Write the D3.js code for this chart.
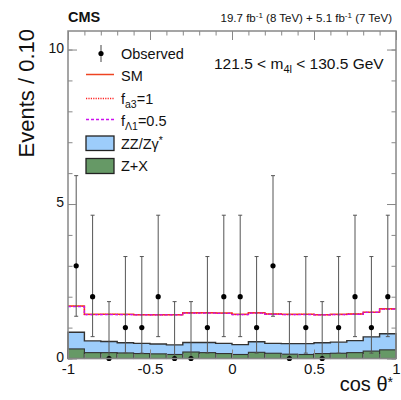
<!DOCTYPE html>
<html>
<head>
<meta charset="utf-8">
<script src="https://cdn.jsdelivr.net/npm/d3@7/dist/d3.min.js"></script>
<style>
  html, body { margin: 0; padding: 0; background: #fff; }
  svg text { font-family: "Liberation Sans", Arial, Helvetica, sans-serif; fill: #111; }
</style>
</head>
<body>
<svg id="chart" width="401" height="400"></svg>
<script>
// Bin lower edges of cos(theta*) histogram, width 0.1
const binEdges = d3.range(20).map(i => -1 + i * 0.1);
const binWidth = 0.1;

// Observed event counts per bin
const observed = [3, 2, 0, 1, 1, 2, 0, 0, 1, 2, 2, 1, 3, 0, 1, 0, 1, 2, 1, 2];

// Expected Z+X background per bin
const zxBkg = [0.31, 0.19, 0.19, 0.18, 0.16, 0.15, 0.13, 0.21, 0.19, 0.16,
               0.13, 0.20, 0.17, 0.14, 0.13, 0.16, 0.17, 0.19, 0.24, 0.28];
// Expected ZZ/Zgamma* background per bin (stacked on Z+X)
const zzBkg = [0.54, 0.38, 0.36, 0.33, 0.33, 0.32, 0.31, 0.31, 0.33, 0.33,
               0.32, 0.34, 0.32, 0.34, 0.35, 0.35, 0.36, 0.39, 0.46, 0.52];
// Total expectation for signal hypotheses (signal + background)
const smTotal = [1.70, 1.43, 1.43, 1.43, 1.42, 1.42, 1.42, 1.48, 1.48, 1.47,
                 1.43, 1.48, 1.44, 1.43, 1.43, 1.42, 1.43, 1.44, 1.50, 1.61];
const fa3Total = [1.69, 1.42, 1.43, 1.42, 1.42, 1.41, 1.42, 1.47, 1.48, 1.46,
                  1.42, 1.47, 1.44, 1.42, 1.43, 1.42, 1.42, 1.44, 1.49, 1.60];
const fL1Total = [1.68, 1.42, 1.42, 1.42, 1.41, 1.41, 1.41, 1.47, 1.47, 1.46,
                  1.42, 1.47, 1.43, 1.42, 1.42, 1.41, 1.42, 1.43, 1.49, 1.60];

// Poisson 68% (Garwood) intervals for small counts
const poissonLow  = [0, 0.173, 0.708, 1.367];
const poissonHigh = [1.841, 3.300, 4.638, 5.918];

const xMajorTicks = [-1, -0.5, 0, 0.5, 1];
const xTickLabels = ["-1", "-0.5", "0", "0.5", "1"];
const yMajorTicks = [0, 5, 10];

const svg = d3.select("#chart");
const plotLeft = 68, plotRight = 396, plotTop = 31, plotBottom = 358.5;

const x = d3.scaleLinear().domain([-1, 1]).range([plotLeft, plotRight]);
const y = d3.scaleLinear().domain([0, 10.6]).range([plotBottom, plotTop]);

// step path for a per-bin series
function stepPath(vals) {
  let p = "";
  vals.forEach((v, i) => {
    const x0 = x(binEdges[i]), x1 = x(binEdges[i] + binWidth);
    p += (i === 0 ? "M" : "L") + x0 + "," + y(v) + "L" + x1 + "," + y(v);
  });
  return p;
}

const stackTop = zxBkg.map((v, i) => v + zzBkg[i]);

// ZZ / Zgamma* stacked area
const areaPts = [];
stackTop.forEach((v, i) => {
  areaPts.push([x(binEdges[i]), y(v)], [x(binEdges[i] + binWidth), y(v)]);
});
const areaPath = "M" + x(-1) + "," + y(0) + "L" + areaPts.map(p => p.join(",")).join("L") +
  "L" + x(1) + "," + y(0) + "Z";
svg.append("path").attr("d", areaPath).attr("fill", "#9dcdfb").attr("stroke", "none");
svg.append("path")
  .attr("d", "M" + x(-1) + "," + y(0) + "L" + stepPath(stackTop).slice(1) + "L" + x(1) + "," + y(0))
  .attr("fill", "none").attr("stroke", "#333").attr("stroke-width", 1.4);

// Z+X boxes
svg.append("g").selectAll("rect").data(zxBkg).join("rect")
  .attr("x", (d, i) => x(binEdges[i]))
  .attr("width", (d, i) => x(binEdges[i] + binWidth) - x(binEdges[i]))
  .attr("y", d => y(d))
  .attr("height", d => y(0) - y(d))
  .attr("fill", "#669966").attr("stroke", "#333").attr("stroke-width", 1.1);

// Signal hypothesis lines
svg.append("path").attr("d", stepPath(smTotal))
  .attr("fill", "none").attr("stroke", "#ee4422").attr("stroke-width", 1.5);
svg.append("path").attr("d", stepPath(fa3Total))
  .attr("fill", "none").attr("stroke", "#ff2222").attr("stroke-width", 1.3)
  .attr("stroke-dasharray", "1.2,1.2");
svg.append("path").attr("d", stepPath(fL1Total))
  .attr("fill", "none").attr("stroke", "#cc11ee").attr("stroke-width", 1.3)
  .attr("stroke-dasharray", "3,2");

// Observed points with Poisson error bars
const obs = svg.append("g");
observed.forEach((n, i) => {
  const cx = x(binEdges[i] + binWidth / 2);
  const lo = poissonLow[n], hi = poissonHigh[n];
  obs.append("line").attr("x1", cx).attr("x2", cx).attr("y1", y(lo)).attr("y2", y(hi))
    .attr("stroke", "#555").attr("stroke-width", 1);
  [lo, hi].forEach(v => {
    obs.append("line").attr("x1", cx - 2).attr("x2", cx + 2).attr("y1", y(v)).attr("y2", y(v))
      .attr("stroke", "#555").attr("stroke-width", 1);
  });
  obs.append("circle").attr("cx", cx).attr("cy", y(n)).attr("r", 2.6).attr("fill", "#000");
});

// Frame and axes (ticks drawn inward on all four sides)
const minorX = d3.range(-10, 11).map(i => i / 10);
const minorY = d3.range(0, 11);
const axisColor = "#888";

function styleAxis(g) {
  g.select(".domain").remove();
  g.selectAll("line").attr("stroke", axisColor).attr("stroke-width", 1);
  g.selectAll("text").attr("font-size", 15).attr("fill", "#111");
}

svg.append("g").attr("transform", `translate(0,${plotBottom})`)
  .call(d3.axisBottom(x).tickValues(minorX).tickSizeInner(-4.5).tickSizeOuter(0).tickFormat(""))
  .call(styleAxis);
svg.append("g").attr("transform", `translate(0,${plotBottom})`)
  .call(d3.axisBottom(x).tickValues(xMajorTicks).tickSizeInner(-9).tickSizeOuter(0)
    .tickPadding(5).tickFormat((d, i) => xTickLabels[i]))
  .call(styleAxis);
svg.append("g").attr("transform", `translate(0,${plotTop})`)
  .call(d3.axisTop(x).tickValues(minorX).tickSizeInner(-4.5).tickSizeOuter(0).tickFormat(""))
  .call(styleAxis);
svg.append("g").attr("transform", `translate(0,${plotTop})`)
  .call(d3.axisTop(x).tickValues(xMajorTicks).tickSizeInner(-9).tickSizeOuter(0).tickFormat(""))
  .call(styleAxis);

svg.append("g").attr("transform", `translate(${plotLeft},0)`)
  .call(d3.axisLeft(y).tickValues(minorY).tickSizeInner(-4.5).tickSizeOuter(0).tickFormat(""))
  .call(styleAxis);
svg.append("g").attr("transform", `translate(${plotLeft},0)`)
  .call(d3.axisLeft(y).tickValues(yMajorTicks).tickSizeInner(-9).tickSizeOuter(0)
    .tickPadding(4).tickFormat(d3.format("d")))
  .call(styleAxis)
  .call(g => g.selectAll("text").attr("font-size", 14).attr("dy", "0.2em"));
svg.append("g").attr("transform", `translate(${plotRight},0)`)
  .call(d3.axisRight(y).tickValues(minorY).tickSizeInner(-4.5).tickSizeOuter(0).tickFormat(""))
  .call(styleAxis);
svg.append("g").attr("transform", `translate(${plotRight},0)`)
  .call(d3.axisRight(y).tickValues(yMajorTicks).tickSizeInner(-9).tickSizeOuter(0).tickFormat(""))
  .call(styleAxis);

svg.append("rect").attr("x", plotLeft).attr("y", plotTop)
  .attr("width", plotRight - plotLeft).attr("height", plotBottom - plotTop)
  .attr("fill", "none").attr("stroke", axisColor).attr("stroke-width", 1.5);

// Axis titles
svg.append("text").attr("transform", "translate(34,29) rotate(-90)")
  .attr("text-anchor", "end").attr("font-size", 22).text("Events / 0.10");
const xt = svg.append("text").attr("x", 393).attr("y", 391).attr("text-anchor", "end").attr("font-size", 20);
xt.append("tspan").text("cos θ");
xt.append("tspan").attr("dy", -4).attr("font-size", 14).text("*");

// Header
svg.append("text").attr("x", 68).attr("y", 22).attr("font-size", 14.5).attr("font-weight", "bold").text("CMS");
const lumi = svg.append("text").attr("x", 392).attr("y", 22).attr("text-anchor", "end").attr("font-size", 11.5);
lumi.append("tspan").text("19.7 fb");
lumi.append("tspan").attr("dy", -4).attr("font-size", 8).text("-1");
lumi.append("tspan").attr("dy", 4).text(" (8 TeV) + 5.1 fb");
lumi.append("tspan").attr("dy", -4).attr("font-size", 8).text("-1");
lumi.append("tspan").attr("dy", 4).text(" (7 TeV)");

// Mass window label
const mw = svg.append("text").attr("x", 214).attr("y", 69).attr("font-size", 15.5);
mw.append("tspan").text("121.5 < m");
mw.append("tspan").attr("dy", 4).attr("font-size", 11).text("4l");
mw.append("tspan").attr("dy", -4).text(" < 130.5 GeV");

// Legend
const lg = svg.append("g");
const lx0 = 86, lx1 = 114, tx = 121;
lg.append("line").attr("x1", 101).attr("x2", 101).attr("y1", 45).attr("y2", 62).attr("stroke", "#444");
lg.append("circle").attr("cx", 101).attr("cy", 53.5).attr("r", 2.6).attr("fill", "#000");
lg.append("text").attr("x", tx).attr("y", 58.5).attr("font-size", 14.5).text("Observed");

lg.append("line").attr("x1", lx0).attr("x2", lx1).attr("y1", 74.5).attr("y2", 74.5)
  .attr("stroke", "#ee4422").attr("stroke-width", 1.5);
lg.append("text").attr("x", tx).attr("y", 81).attr("font-size", 14.5).text("SM");

lg.append("line").attr("x1", lx0).attr("x2", lx1).attr("y1", 98.5).attr("y2", 98.5)
  .attr("stroke", "#ff2222").attr("stroke-width", 1.3).attr("stroke-dasharray", "1.2,1.2");
const t3 = lg.append("text").attr("x", tx).attr("y", 104).attr("font-size", 14.5);
t3.append("tspan").text("f");
t3.append("tspan").attr("dy", 4).attr("font-size", 10.5).text("a3");
t3.append("tspan").attr("dy", -4).text("=1");

lg.append("line").attr("x1", lx0).attr("x2", lx1).attr("y1", 119.5).attr("y2", 119.5)
  .attr("stroke", "#cc11ee").attr("stroke-width", 1.3).attr("stroke-dasharray", "3,2");
const t4 = lg.append("text").attr("x", tx).attr("y", 126).attr("font-size", 14.5);
t4.append("tspan").text("f");
t4.append("tspan").attr("dy", 4).attr("font-size", 10.5).text("Λ1");
t4.append("tspan").attr("dy", -4).text("=0.5");

lg.append("rect").attr("x", lx0).attr("y", 136).attr("width", lx1 - lx0).attr("height", 14.5)
  .attr("fill", "#9dcdfb").attr("stroke", "#222").attr("stroke-width", 1.3);
const t5 = lg.append("text").attr("x", tx).attr("y", 148.5).attr("font-size", 14.5);
t5.append("tspan").text("ZZ/Zγ");
t5.append("tspan").attr("dy", -5).attr("font-size", 10.5).text("*");

lg.append("rect").attr("x", lx0).attr("y", 158.5).attr("width", lx1 - lx0).attr("height", 15)
  .attr("fill", "#669966").attr("stroke", "#222").attr("stroke-width", 1.3);
lg.append("text").attr("x", tx).attr("y", 171).attr("font-size", 14.5).text("Z+X");
</script>
</body>
</html>
